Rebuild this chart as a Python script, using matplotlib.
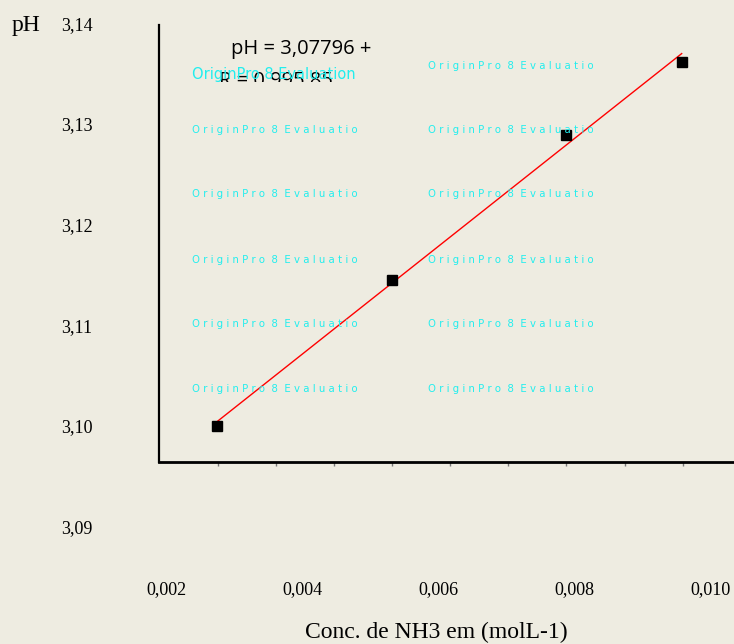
import numpy as np
import matplotlib
matplotlib.use("Agg")
import matplotlib.pyplot as plt
from matplotlib.ticker import FixedLocator, FuncFormatter
from matplotlib.transforms import Bbox, TransformedBbox

# data
conc = [0.00275, 0.00532, 0.00787, 0.00957]
ph = [3.1000, 3.1145, 3.1289, 3.1361]
x_ticks = [0.002, 0.004, 0.006, 0.008, 0.010]
y_ticks = [3.09, 3.10, 3.11, 3.12, 3.13, 3.14]
eq_text = "pH = 3,07796 +"
r_text = "R = 0,995 85"
x_label = "Conc. de NH3 em (molL-1)"
y_label = "pH"

W, H = 734, 644
BG = "#EEECE1"
SERIF = "Liberation Serif"


def fx(px):
    return px / W


def fy(py):
    return 1 - py / H


fig = plt.figure(figsize=(W / 100, H / 100), dpi=100, facecolor=BG)
ax = fig.add_axes([fx(159), fy(540), fx(734) - fx(159), fy(10) - fy(540)])
ax.set_facecolor(BG)
ax.patch.set_alpha(0)

x0, x1 = 0.001897, 0.010338
y0, y1 = 3.08868, 3.14131
y_axis = 3.09643
y_top = 3.13982
ax.set_xlim(x0, x1)
ax.set_ylim(y0, y1)

# the points and the linear fit
slope, icpt = np.polyfit(conc, ph, 1)
xs = np.array([min(conc), max(conc)])
ax.plot(xs, icpt + slope * xs, color="red", lw=1, zorder=2)
ax.plot(conc, ph, ls="none", marker="s", ms=7, color="black", zorder=3)

# axes look
for side in ("top", "right"):
    ax.spines[side].set_visible(False)
ax.spines["bottom"].set_position(("data", y_axis))
ax.spines["left"].set_bounds(y_axis, y_top)
ax.spines["bottom"].set_linewidth(2)
ax.spines["left"].set_linewidth(1.6)

comma = FuncFormatter(lambda v, p: f"{v:.3f}".replace(".", ","))
comma_y = FuncFormatter(lambda v, p: f"{v:.2f}".replace(".", ","))
ax.xaxis.set_major_locator(FixedLocator(x_ticks))
ax.xaxis.set_major_formatter(comma)
ax.yaxis.set_major_locator(FixedLocator(y_ticks))
ax.yaxis.set_major_formatter(comma_y)
ax.tick_params(axis="x", which="major", length=0, pad=86, labelsize=13)
ax.tick_params(axis="y", which="major", length=0, pad=48, labelsize=13)
for lab in ax.get_xticklabels() + ax.get_yticklabels():
    lab.set_fontfamily(SERIF)

# faint leftover ticks on the bottom axis
ax.xaxis.set_minor_locator(FixedLocator(np.arange(0.00276, 0.0104, 0.000853)))
ax.tick_params(axis="x", which="minor", length=3, width=1, color="#777777",
               direction="out")
ax.tick_params(axis="y", which="minor", length=0)

fig.text(fx(12), fy(25), y_label, fontsize=17, family=SERIF, va="center")
fig.text(fx(436), fy(632), x_label, fontsize=17, family=SERIF,
         ha="center", va="center")

# equation box text (second line is cut off in the original)
fig.text(fx(231), fy(54), eq_text, fontsize=14.5, family="Open Sans",
         va="baseline")
r = fig.text(fx(219), fy(86), r_text, fontsize=14.5, family="Open Sans",
             va="baseline")
r.set_clip_box(TransformedBbox(Bbox([[0, fy(82)], [1, 1]]), fig.transFigure))
r.set_clip_on(True)

# evaluation watermark
spaced = "O r i g i n P r o  8  E v a l u a t i o"
fig.text(fx(192), fy(75), "OriginPro 8 Evaluation", fontsize=10.5,
         color="#22EEEE", va="center")
for yy in (130, 194, 260, 324, 389):
    fig.text(fx(192), fy(yy), spaced, fontsize=7.3, color="#22EEEE", va="center")
for yy in (66, 130, 194, 260, 324, 389):
    fig.text(fx(428), fy(yy), spaced, fontsize=7.3, color="#22EEEE", va="center")

fig.savefig("out.png", dpi=100, facecolor=BG)
